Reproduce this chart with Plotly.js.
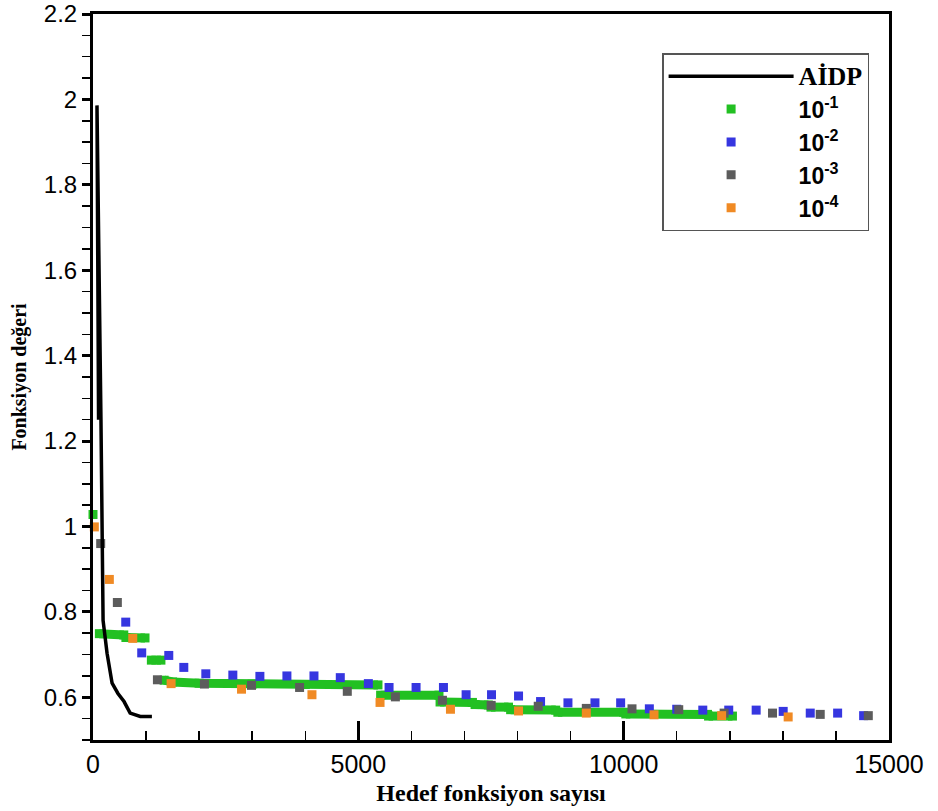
<!DOCTYPE html>
<html>
<head>
<meta charset="utf-8">
<script src="https://cdn.plot.ly/plotly-3.0.1.min.js"></script>
<style>html,body{margin:0;padding:0;background:#fff;}#chart{width:938px;height:811px;}</style>
</head>
<body>
<div id="chart"></div>
<script>
// AİDP curve
const aidpX = [105, 75, 150, 190, 265, 360, 470, 585, 700, 890, 1110];
const aidpY = [1.25, 1.986, 1.25, 0.78, 0.703, 0.633, 0.609, 0.590, 0.563, 0.555, 0.555];

// 10^-1 (dense run of evaluations, segments separated by null)
const g1X = [0, null, 120, 580, null, 620, 980, null, 1100, 1280, null, 1340, 1500, 2000, 3000, 4000, 5370, null, 5420, 6520, null, 6540, 7150, null, 7200, 7450, null, 7500, 7830, null, 7870, 8720, null, 8760, 10000, null, 10040, 11580, null, 11600, 12050];
const g1Y = [1.028, null, 0.749, 0.746, null, 0.740, 0.739, null, 0.687, 0.687, null, 0.640, 0.636, 0.633, 0.631, 0.630, 0.629, null, 0.605, 0.605, null, 0.589, 0.588, null, 0.583, 0.582, null, 0.577, 0.577, null, 0.571, 0.570, null, 0.565, 0.565, null, 0.561, 0.560, null, 0.556, 0.556];

// 10^-2
const g2X = [617, 918, 1428, 1711, 2126, 2635, 3145, 3654, 4164, 4660, 5189, 5579, 6088, 6604, 7031, 7510, 8019, 8434, 8950, 9459, 9943, 10484, 11000, 11491, 11980, 12497, 13006, 13516, 14032, 14522];
const g2Y = [0.776, 0.704, 0.698, 0.670, 0.655, 0.652, 0.649, 0.650, 0.650, 0.646, 0.632, 0.623, 0.623, 0.623, 0.606, 0.606, 0.603, 0.590, 0.587, 0.587, 0.587, 0.573, 0.572, 0.570, 0.570, 0.570, 0.567, 0.563, 0.563, 0.557];

// 10^-3
const g3X = [145, 459, 1214, 2100, 2987, 3893, 4792, 5698, 6585, 7503, 8390, 9296, 10157, 11038, 11893, 12805, 13704, 14610];
const g3Y = [0.960, 0.822, 0.641, 0.631, 0.628, 0.623, 0.614, 0.601, 0.593, 0.581, 0.579, 0.574, 0.573, 0.571, 0.563, 0.563, 0.560, 0.557];

// 10^-4
const g4X = [25, 308, 749, 1472, 2799, 4126, 5409, 6736, 8019, 9296, 10572, 11846, 13100];
const g4Y = [0.999, 0.876, 0.738, 0.632, 0.619, 0.606, 0.588, 0.572, 0.568, 0.563, 0.559, 0.557, 0.554];

const seriesNames = ['AİDP', '10<sup>-1</sup>', '10<sup>-2</sup>', '10<sup>-3</sup>', '10<sup>-4</sup>'];

const xTickVals = [0, 5000, 10000, 15000];
const xTickText = ['0', '5000', '10000', '15000'];
const yTickVals = [0.6, 0.8, 1.0, 1.2, 1.4, 1.6, 1.8, 2.0, 2.2];
const yTickText = ['0.6', '0.8', '1', '1.2', '1.4', '1.6', '1.8', '2', '2.2'];

const cGreen = '#22c022', cBlue = '#3636e0', cGray = '#5c5c5c', cOrange = '#f08a24';
const msize = 9;

const traces = [
  {x: g1X, y: g1Y, mode: 'lines', line: {color: cGreen, width: 9}, connectgaps: false, showlegend: false, hoverinfo: 'skip'},
  {x: g1X, y: g1Y, mode: 'markers', name: seriesNames[1], legendrank: 2, marker: {symbol: 'square', size: msize, color: cGreen}, cliponaxis: false},
  {x: g2X, y: g2Y, mode: 'markers', name: seriesNames[2], legendrank: 3, marker: {symbol: 'square', size: msize, color: cBlue}, cliponaxis: false},
  {x: g3X, y: g3Y, mode: 'markers', name: seriesNames[3], legendrank: 4, marker: {symbol: 'square', size: msize, color: cGray}, cliponaxis: false},
  {x: g4X, y: g4Y, mode: 'markers', name: seriesNames[4], legendrank: 5, marker: {symbol: 'square', size: msize, color: cOrange}, cliponaxis: false},
  {x: aidpX, y: aidpY, mode: 'lines', name: '<span style="font-family:\'Liberation Serif\';font-size:26px">' + seriesNames[0] + '</span>', legendrank: 1, line: {color: '#000', width: 3.5}}
];

const layout = {
  width: 938, height: 811,
  margin: {l: 93, r: 49, t: 14, b: 71},
  paper_bgcolor: '#fff', plot_bgcolor: '#fff',
  font: {family: 'Liberation Sans, Arial, sans-serif', color: '#000'},
  xaxis: {
    range: [0, 15000], showgrid: false, zeroline: false,
    showline: true, mirror: true, linecolor: '#000', linewidth: 3,
    tickmode: 'array', tickvals: xTickVals, ticktext: xTickText,
    ticks: 'inside', ticklen: 19, tickwidth: 3, tickcolor: '#000',
    minor: {dtick: 1000, tick0: 0, ticks: 'inside', ticklen: 9, tickwidth: 1.5, tickcolor: '#000', showgrid: false},
    tickfont: {size: 25, family: 'Liberation Sans, Arial, sans-serif'},
    title: {text: 'Hedef fonksiyon sayısı', font: {family: 'Liberation Serif, Times New Roman, serif', size: 24, weight: 'bold'}, standoff: 8}
  },
  yaxis: {
    range: [0.5, 2.2], showgrid: false, zeroline: false,
    showline: true, mirror: true, linecolor: '#000', linewidth: 3,
    tickmode: 'array', tickvals: yTickVals, ticktext: yTickText,
    ticks: 'outside', ticklen: 8, tickwidth: 3, tickcolor: '#000',
    minor: {dtick: 0.05, tick0: 0.5, ticks: 'outside', ticklen: 8, tickwidth: 1.5, tickcolor: '#000', showgrid: false},
    tickfont: {size: 24, family: 'Liberation Sans, Arial, sans-serif'},
    title: {text: 'Fonksiyon değeri', font: {family: 'Liberation Serif, Times New Roman, serif', size: 20, weight: 'bold'}, standoff: 12}
  },
  legend: {
    x: 0.975, xanchor: 'right', y: 0.946, yanchor: 'top',
    bgcolor: '#fff', bordercolor: '#555', borderwidth: 1.5,
    font: {size: 23, weight: 'bold', family: 'Liberation Sans, Arial, sans-serif'},
    itemwidth: 125, traceorder: 'normal'
  },
  showlegend: true
};

Plotly.newPlot('chart', traces, layout, {displayModeBar: false, staticPlot: true});
</script>
</body>
</html>
